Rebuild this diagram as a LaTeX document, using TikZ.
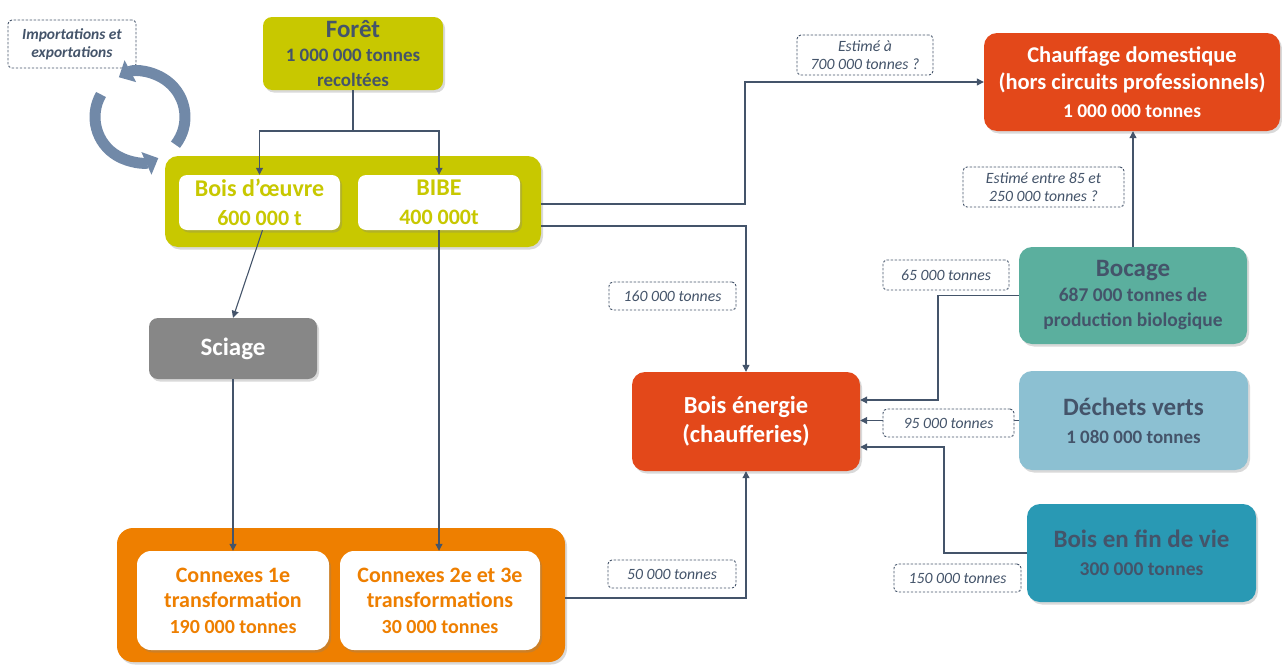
\documentclass[tikz,border=0pt]{standalone}
\usepackage{fontspec}
\setmainfont{Carlito}
\usetikzlibrary{arrows.meta,shadows}
\definecolor{slate}{HTML}{44546A}
\definecolor{olive}{HTML}{C8C800}
\definecolor{orng}{HTML}{EE7F00}
\definecolor{redor}{HTML}{E3481A}
\definecolor{teal1}{HTML}{5BAF9E}
\definecolor{lblue}{HTML}{8CC0D2}
\definecolor{dblue}{HTML}{2999B4}
\definecolor{sgray}{HTML}{878787}
\definecolor{arrc}{HTML}{7189A8}
\newcommand{\tsz}{\fontsize{25}{26}\selectfont}
\newcommand{\ssz}{\fontsize{19.5}{25}\selectfont}
\tikzset{
  box/.style={rounded corners=9pt, align=center, inner sep=0pt,
    font=\bfseries\ssz,
    drop shadow={opacity=0.3, shadow xshift=2pt, shadow yshift=-2.5pt}},
  wbox/.style={box, fill=white, rounded corners=8pt},
  lbl/.style={draw=slate, line width=0.9pt, dash pattern=on 2.4pt off 1.6pt, rounded corners=4pt,
    fill=white, font=\fontsize{15.7}{18}\selectfont\itshape, text=slate,
    align=center, inner sep=0pt},
  link/.style={draw=slate, line width=1.1pt},
  conn/.style={link, -{Triangle[width=7pt,length=7pt]}},
  circarrow/.style={draw=arrc, line width=11pt, -{Triangle[width=24pt,length=13pt]}}
}
\begin{document}
\begin{tikzpicture}[x=1pt,y=-1pt]
\useasboundingbox (0,0) rectangle (1282,664);

% import / export
\node[lbl, font=\fontsize{15.5}{18}\selectfont\bfseries\itshape, minimum width=128, minimum height=48] (imp) at (72,44) {Importations et\\exportations};
\draw[circarrow] (140,117) ++(38:45) arc[start angle=38, end angle=-118, radius=45];
\draw[circarrow] (140,117) ++(-150:45) arc[start angle=-150, end angle=-294, radius=45];

% forest
\node[box, fill=olive, text=slate, font=\bfseries\fontsize{19}{24.5}\selectfont, minimum width=180, minimum height=73] (foret) at (353,53.5) {{\tsz Forêt}\\1 000 000 tonnes\\recoltées};
\node[box, fill=olive, minimum width=376, minimum height=91, rounded corners=13pt] (ybig) at (353,201.5) {};
\node[wbox, text=olive, font=\bfseries\fontsize{22}{29}\selectfont, minimum width=161, minimum height=55] (bo) at (259.5,202.5) {{\fontsize{24}{29}\selectfont Bois d’œuvre}\\600 000 t};
\node[wbox, text=olive, font=\bfseries\fontsize{22}{29}\selectfont, minimum width=162, minimum height=55] (bibe) at (439,202.5) {{\fontsize{24}{29}\selectfont BIBE}\\400 000t};

% sawing
\node[box, fill=sgray, text=white, font=\bfseries\tsz, minimum width=168, minimum height=61] (sciage) at (233,348.5) {Sciage};

% connexes
\node[box, fill=orng, minimum width=448, minimum height=134, rounded corners=16pt] (obig) at (341,595) {};
\node[wbox, text=orng, font=\bfseries\fontsize{22}{25.5}\selectfont, minimum width=192, minimum height=99, rounded corners=14pt] (c1) at (233,600.5) {Connexes 1e\\transformation\\{\fontsize{20}{25}\selectfont 190 000 tonnes}};
\node[wbox, text=orng, font=\bfseries\fontsize{22}{25.5}\selectfont, minimum width=200, minimum height=99, rounded corners=14pt] (c2) at (440,600.5) {Connexes 2e et 3e\\transformations\\{\fontsize{20}{25}\selectfont 30 000 tonnes}};

% energy
\node[box, fill=redor, text=white, font=\bfseries\fontsize{24.5}{29.5}\selectfont, minimum width=228, minimum height=99, rounded corners=13pt] (be) at (746,421.5) {Bois énergie\\(chaufferies)};
\node[box, fill=redor, text=white, font=\bfseries\fontsize{22.5}{27.5}\selectfont, minimum width=296, minimum height=98, rounded corners=13pt] (chauf) at (1132,82) {Chauffage domestique\\(hors circuits professionnels)\\{\fontsize{19.5}{25}\selectfont 1 000 000 tonnes}};

% sources
\node[box, fill=teal1, text=slate, minimum width=228, minimum height=97, rounded corners=13pt] (bocage) at (1133,295.5) {{\tsz Bocage}\\687 000 tonnes de\\production biologique};
\node[box, fill=lblue, text=slate, font=\bfseries\fontsize{19}{28}\selectfont, minimum width=229, minimum height=99, rounded corners=13pt] (dechets) at (1133.5,420.5) {{\tsz Déchets verts}\\1 080 000 tonnes};
\node[box, fill=dblue, text=slate, font=\bfseries\fontsize{19.5}{28}\selectfont, minimum width=229, minimum height=98, rounded corners=13pt] (fdv) at (1141.5,553) {{\tsz Bois en fin de vie}\\300 000 tonnes};

% connectors
\coordinate (fj) at (353,131);
\draw[link] (foret.south) -- (fj);
\draw[conn] (fj) -| (bo.north);
\draw[conn] (fj) -| (bibe.north);
\draw[conn] ([xshift=3pt]bo.south) -- (sciage.north);
\draw[conn] (sciage.south) -- (sciage.south |- c1.north);
\draw[conn] (bibe.south) -- (bibe.south |- c2.north);
\draw[conn] (ybig.east |- 0,204) -| (745,82) -- (chauf.west);
\draw[conn] (ybig.east |- 0,226) -| (be.north);
\draw[conn] (obig.east |- 0,598) -| (be.south);
\draw[conn] (bocage.north) -- (bocage.north |- chauf.south);
\draw[conn] (bocage.west) -| (938,400) -- (be.east |- 0,400);
\draw[conn] (dechets.west) -- (dechets.west -| be.east);
\draw[conn] (fdv.west) -| (944,447) -- (be.east |- 0,447);

% labels
\node[lbl, minimum width=136, minimum height=40] (l700) at (865,55) {Estimé à\\700 000 tonnes ?};
\node[lbl, minimum width=127, minimum height=28] (l160) at (672.5,296) {160 000 tonnes};
\node[lbl, minimum width=128, minimum height=28] (l50) at (672,574) {50 000 tonnes};
\node[lbl, minimum width=161, minimum height=40] (l85) at (1043.5,187) {Estimé entre 85 et\\250 000 tonnes ?};
\node[lbl, minimum width=126, minimum height=30] (l65) at (946,275) {65 000 tonnes};
\node[lbl, minimum width=131, minimum height=28] (l95) at (948.5,423) {95 000 tonnes};
\node[lbl, minimum width=127, minimum height=28] (l150) at (957.5,578) {150 000 tonnes};
\end{tikzpicture}
\end{document}
